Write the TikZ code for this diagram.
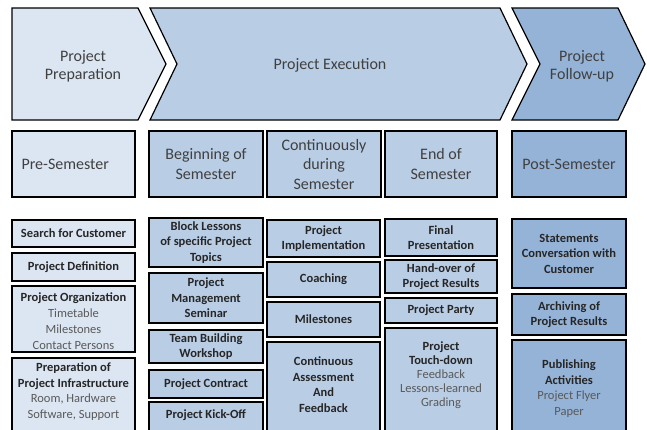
\documentclass[tikz,border=0pt]{standalone}
\usepackage{fontspec}
\setmainfont{Carlito}
\usepackage{tikz}
\usetikzlibrary{positioning}

\definecolor{prepfill}{HTML}{DCE6F2}
\definecolor{execfill}{HTML}{B9CDE5}
\definecolor{follfill}{HTML}{95B3D7}
\definecolor{headgray}{HTML}{404040}
\definecolor{taskgray}{HTML}{262626}
\definecolor{subgray}{HTML}{595959}
\newcommand{\detailline}[1]{\textcolor{subgray}{\mdseries #1}}

\begin{document}
\begin{tikzpicture}[x=1pt,y=1pt]
    \tikzstyle{every node}+=[inner sep=0pt]
    \tikzstyle{phase}=[draw=black, line width=1.2pt]
    \tikzstyle{phasetext}=[align=center, text=headgray, font=\fontsize{16}{18}\selectfont]
    \tikzstyle{timebox}=[draw=black, line width=1.8pt, align=center, text=headgray, font=\fontsize{16}{19.5}\selectfont, minimum height=66]
    \tikzstyle{taskbox}=[draw=black, line width=1.8pt, align=center, text=taskgray, font=\fontsize{12.5}{15.5}\selectfont\bfseries]
    \tikzstyle{tasktext}=[align=center, text=taskgray, font=\fontsize{12.5}{15.5}\selectfont\bfseries]
    \useasboundingbox (0,0) rectangle (647,-429);
    \clip (0,0) rectangle (647,-429);
    % phases
    \draw [phase, fill=prepfill] (12,-8) -- (138,-8) -- (166,-64) -- (138,-120) -- (12,-120) -- cycle;
    \node [phasetext] (prep) at (83,-66) {Project\\Preparation};
    \draw [phase, fill=execfill] (150,-8) -- (500,-8) -- (527,-64) -- (500,-120) -- (150,-120) -- (177,-64) -- cycle;
    \node [phasetext] (exec) at (330,-65) {Project Execution};
    \draw [phase, fill=follfill] (512,-8) -- (618,-8) -- (645,-64) -- (618,-120) -- (512,-120) -- (540,-64) -- cycle;
    \node [phasetext] (foll) at (582,-66) {Project\\Follow-up};
    % time frames
    \node [timebox, fill=prepfill, minimum width=123] (pre) at (73.5,-164) {};
    \node [text=headgray, font=\fontsize{16}{19.5}\selectfont, left=-98 of pre.west] (pretext) {Pre-Semester};
    \node [timebox, fill=execfill, minimum width=114] (begin) at (206,-164) {Beginning of\\Semester};
    \node [timebox, fill=execfill, minimum width=114] (during) at (324,-164) {Continuously\\during\\Semester};
    \node [timebox, fill=execfill, minimum width=112] (end) at (441,-164) {End of\\Semester};
    \node [timebox, fill=follfill, minimum width=114] (post) at (569,-164) {Post-Semester};
    % pre-semester tasks
    \node [taskbox, fill=prepfill, minimum width=123, minimum height=27] (cust) at (73.5,-233.5) {Search for Customer};
    \node [taskbox, fill=prepfill, minimum width=123, minimum height=28] (def) at (73.5,-267) {Project Definition};
    \node [taskbox, fill=prepfill, minimum width=123, minimum height=66] (org) at (73.5,-319) {};
    \node [tasktext, font=\fontsize{12.5}{16}\selectfont\bfseries, below=7.5 of org.north] (orgtext) {Project Organization\\\detailline{Timetable}\\\detailline{Milestones}\\\detailline{Contact Persons}};
    \node [taskbox, fill=prepfill, minimum width=123, minimum height=82] (infra) at (73.5,-399) {};
    \node [tasktext, below=5.5 of infra.north] (infratext) {Preparation of\\Project Infrastructure\\\detailline{Room, Hardware}\\\detailline{Software, Support}};
    % beginning of semester
    \node [taskbox, fill=execfill, minimum width=114, minimum height=49] (block) at (206,-242.5) {Block Lessons\\of specific Project\\Topics};
    \node [taskbox, fill=execfill, minimum width=114, minimum height=50] (pms) at (206,-298) {Project\\Management\\Seminar};
    \node [taskbox, fill=execfill, minimum width=114, minimum height=33] (team) at (206,-346.5) {Team Building\\Workshop};
    \node [taskbox, fill=execfill, minimum width=114, minimum height=28] (contract) at (206,-384) {Project Contract};
    \node [taskbox, fill=execfill, minimum width=114, minimum height=38] (kickoff) at (206,-421) {};
    \node [tasktext, below=8.5 of kickoff.north] (kickofftext) {Project Kick-Off};
    % continuously during semester
    \node [taskbox, fill=execfill, minimum width=113, minimum height=37] (impl) at (323.5,-238.5) {Project\\Implementation};
    \node [taskbox, fill=execfill, minimum width=113, minimum height=35] (coach) at (323.5,-279.5) {Coaching};
    \node [taskbox, fill=execfill, minimum width=113, minimum height=35] (miles) at (323.5,-319.5) {Milestones};
    \node [taskbox, fill=execfill, minimum width=113, minimum height=98] (assess) at (323.5,-391) {};
    \node [tasktext, below=15.5 of assess.north] (assesstext) {Continuous\\Assessment\\And\\Feedback};
    % end of semester
    \node [taskbox, fill=execfill, minimum width=112, minimum height=37] (final) at (441,-237.5) {Final\\Presentation};
    \node [taskbox, fill=execfill, minimum width=112, minimum height=33] (handover) at (441,-276.5) {Hand-over of\\Project Results};
    \node [taskbox, fill=execfill, minimum width=112, minimum height=25] (party) at (441,-310.5) {Project Party};
    \node [taskbox, fill=execfill, minimum width=112, minimum height=112] (touch) at (441,-384) {};
    \node [tasktext, font=\fontsize{12.5}{14}\selectfont\bfseries, below=14.5 of touch.north] (touchtext) {Project\\Touch-down\\\detailline{Feedback}\\\detailline{Lessons-learned}\\\detailline{Grading}};
    % post-semester
    \node [taskbox, fill=follfill, minimum width=114, minimum height=69] (state) at (569,-253.5) {Statements\\Conversation with\\Customer};
    \node [taskbox, fill=follfill, minimum width=114, minimum height=41] (archive) at (569,-314.5) {Archiving of\\Project Results};
    \node [taskbox, fill=follfill, minimum width=114, minimum height=100] (publish) at (569,-390) {};
    \node [tasktext, below=20.5 of publish.north] (publishtext) {Publishing\\Activities\\\detailline{Project Flyer}\\\detailline{Paper}};
\end{tikzpicture}
\end{document}
